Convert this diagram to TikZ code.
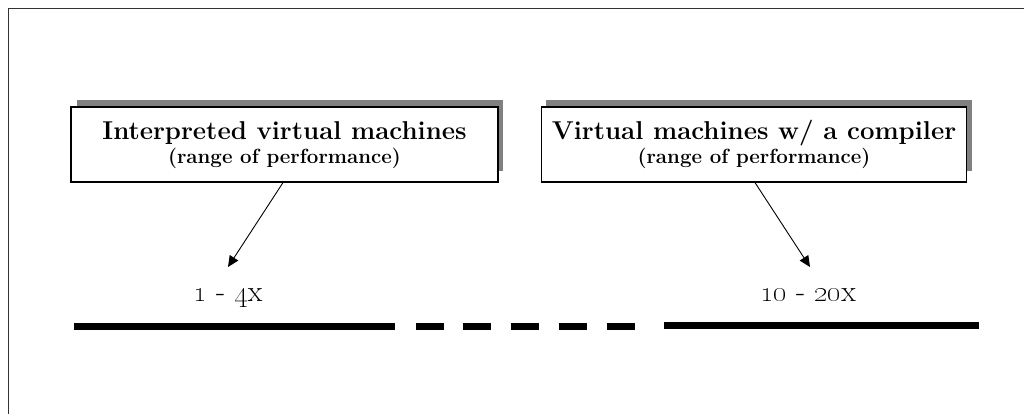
\documentclass[tikz,border=0pt]{standalone}
\usetikzlibrary{arrows.meta}
\begin{document}
\begin{tikzpicture}[x=1pt,y=-1pt,
  titlebox/.style={draw=black,line width=1.2pt,fill=white,minimum width=427pt,minimum height=75pt,inner sep=0pt},
  titletext/.style={anchor=base,inner sep=0pt,font=\fontsize{25.8}{28}\selectfont\bfseries},
  subtext/.style={anchor=base,inner sep=0pt,font=\fontsize{20.5}{24}\selectfont\bfseries},
  pointer/.style={line width=0.9pt,-{Triangle[length=11pt,width=10pt]}},
  rangelbl/.style={anchor=base,inner sep=0pt,font=\fontsize{30}{34}\selectfont},
  bar/.style={line width=7pt,line cap=butt}]
\useasboundingbox (0,0) rectangle (1024,414);
% frame (only top and left edges visible)
\draw[line width=1pt,black!80] (8,414) -- (8,9) -- (1024,9);
% shadows
\fill[black!50] (77,100) rectangle (503,171);
\fill[black!50] (546,100) rectangle (972,171);
% boxes
\node[titlebox] (b1) at (284.5,144.5) {};
\node[titlebox,minimum width=425pt] (b2) at (754,144.5) {};
\node[titletext] (b1t) at (284.5,140) {Interpreted virtual machines};
\node[subtext] (b1s) at (284.5,163.5) {(range of performance)};
\node[titletext] (b2t) at (754,140) {Virtual machines w/ a compiler};
\node[subtext] (b2s) at (754,163.5) {(range of performance)};
% arrow tips
\coordinate (t1) at (228,267);
\coordinate (t2) at (810,267);
\draw[pointer] (b1.south -| 283,0) -- (t1);
\draw[pointer] (b2.south -| 755,0) -- (t2);
% range labels
\node[rangelbl] (l1) at (228,301) {\oldstylenums{1} - \oldstylenums{4}x};
\node[rangelbl] (l2) at (808,301) {\oldstylenums{10} - \oldstylenums{20}x};
% performance axis
\coordinate (a0) at (74,326.5);
\coordinate (a1) at (395,326.5);
\coordinate (a2) at (664,325.5);
\coordinate (a3) at (979,325.5);
\draw[bar] (a0) -- (a1);
\draw[bar] (a2) -- (a3);
\foreach \s in {416,463,511,559,607}{
  \draw[bar] (\s,326) -- (\s+27.5,326);
}
\end{tikzpicture}
\end{document}
